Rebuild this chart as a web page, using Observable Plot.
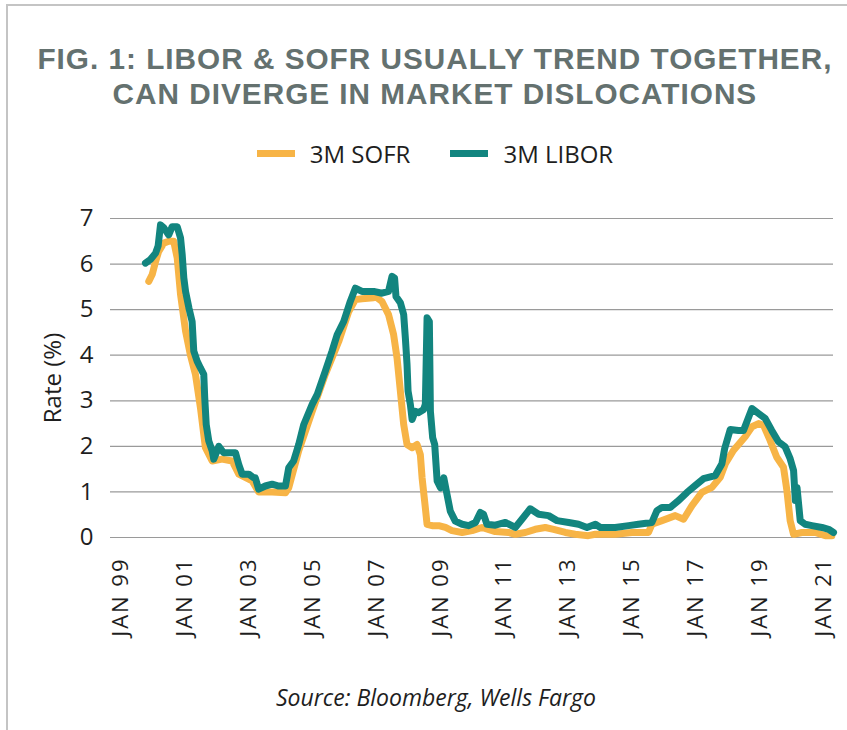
<!DOCTYPE html>
<html>
<head>
<meta charset="utf-8">
<script src="https://cdn.jsdelivr.net/npm/d3@7"></script>
<script src="https://cdn.jsdelivr.net/npm/@observablehq/plot@0.6"></script>
<style>
  html, body { margin: 0; padding: 0; background: #fff; }
  body { width: 847px; height: 730px; position: relative; overflow: hidden; font-family: "Open Sans", sans-serif; }
  #frame { position: absolute; left: 6px; top: 4px; width: 900px; height: 800px; border-top: 2px solid #c4c4c4; border-left: 2px solid #c4c4c4; }
  #titlewrap { position: absolute; left: 0; top: 41px; width: 870px; text-align: center; }
  #title { display: inline-block; text-align: center; font-family: "Liberation Sans Narrow", "Liberation Sans", sans-serif; font-weight: 700; font-size: 30px; line-height: 35px; color: #64716f; letter-spacing: 1px; white-space: nowrap; transform-origin: center; }
  #legend { position: absolute; left: 0; top: 137px; width: 870px; display: flex; justify-content: center; align-items: center; font-size: 24px; color: #1e1e1e; }
  .sw { display: inline-block; width: 38px; height: 7px; margin-right: 15px; }
  .item { display: flex; align-items: center; }
  #chart { position: absolute; left: 0; top: 190px; }
  #caption { position: absolute; left: 0; top: 681px; width: 872px; text-align: center; font-style: italic; font-size: 23px; color: #1e1e1e; }
  g[aria-label="x-axis tick label"] text { letter-spacing: 2px; }
</style>
</head>
<body>
<div id="frame"></div>
<div id="titlewrap"><div id="title">FIG. 1: LIBOR &amp; SOFR USUALLY TREND TOGETHER,<br>CAN DIVERGE IN MARKET DISLOCATIONS</div></div>
<div id="legend"></div>
<div id="chart"></div>
<div id="caption">Source: Bloomberg, Wells Fargo</div>
<script>
// ---- data ----
const seriesNames = ["3M SOFR", "3M LIBOR"];
const seriesColors = ["#f7b446", "#12857f"];

const liborDates = ["1999-10-12","1999-12-08","2000-02-05","2000-03-05","2000-04-01","2000-05-08","2000-07-04","2000-08-12","2000-10-09","2000-11-16","2000-12-05","2000-12-23","2001-01-12","2001-02-19","2001-03-28","2001-04-16","2001-05-24","2001-07-01","2001-08-08","2001-08-19","2001-09-05","2001-10-04","2001-11-12","2001-11-30","2002-01-27","2002-03-23","2002-06-28","2002-08-05","2002-09-12","2002-10-20","2003-01-04","2003-02-28","2003-03-19","2003-04-27","2003-07-12","2003-09-28","2003-12-12","2004-02-27","2004-04-04","2004-05-30","2004-07-27","2004-09-23","2004-12-28","2005-02-24","2005-05-27","2005-08-12","2005-10-09","2005-12-23","2006-03-08","2006-05-05","2006-07-20","2006-11-30","2007-03-05","2007-05-19","2007-06-28","2007-07-27","2007-08-12","2007-10-01","2007-11-08","2007-11-27","2007-12-16","2007-12-28","2008-01-23","2008-02-12","2008-03-19","2008-04-27","2008-06-23","2008-07-12","2008-08-01","2008-08-27","2008-09-08","2008-10-04","2008-10-27","2008-11-24","2009-01-01","2009-02-08","2009-03-16","2009-04-23","2009-06-19","2009-09-05","2009-11-19","2010-02-05","2010-04-01","2010-05-08","2010-06-16","2010-09-19","2011-01-12","2011-05-05","2011-07-20","2011-10-23","2012-01-27","2012-05-19","2012-08-24","2013-01-04","2013-04-27","2013-08-01","2013-11-05","2014-01-01","2014-06-19","2014-11-19","2015-03-12","2015-08-12","2015-10-09","2015-12-05","2016-03-08","2016-06-12","2016-09-16","2016-12-19","2017-03-23","2017-08-05","2017-10-20","2017-11-20","2018-01-23","2018-04-27","2018-06-23","2018-09-28","2018-12-12","2019-02-27","2019-05-12","2019-07-27","2019-10-12","2019-12-08","2020-01-16","2020-02-05","2020-02-24","2020-04-01","2020-05-27","2020-08-12","2020-12-05","2021-02-19","2021-04-16"];
const liborRates = [6.02,6.10,6.24,6.40,6.86,6.80,6.64,6.82,6.82,6.57,6.20,5.70,5.40,5.04,4.74,4.09,3.87,3.72,3.58,3.07,2.48,2.12,1.90,1.72,2.00,1.86,1.86,1.86,1.60,1.39,1.39,1.31,1.31,1.06,1.13,1.17,1.13,1.13,1.53,1.68,2.04,2.48,2.92,3.14,3.65,4.09,4.45,4.74,5.18,5.47,5.40,5.40,5.36,5.40,5.73,5.69,5.29,5.15,4.89,4.38,3.80,3.21,2.92,2.59,2.77,2.74,2.81,2.92,4.82,4.74,2.77,2.19,2.04,1.24,1.09,1.31,0.95,0.58,0.36,0.29,0.26,0.33,0.55,0.51,0.29,0.27,0.33,0.22,0.40,0.63,0.51,0.48,0.37,0.33,0.29,0.22,0.29,0.22,0.22,0.26,0.29,0.33,0.59,0.66,0.66,0.81,0.99,1.14,1.29,1.36,1.62,1.95,2.37,2.35,2.35,2.83,2.72,2.61,2.35,2.10,1.99,1.73,1.47,0.81,1.10,0.37,0.29,0.26,0.22,0.18,0.11];

const sofrDates = ["1999-11-19","1999-12-28","2000-02-05","2000-03-12","2000-05-08","2000-07-04","2000-08-30","2000-10-09","2000-11-16","2001-01-12","2001-03-08","2001-05-05","2001-07-01","2001-08-27","2001-11-12","2002-03-05","2002-06-28","2002-09-12","2003-02-12","2003-04-27","2003-09-28","2004-02-27","2004-04-04","2004-07-27","2004-12-28","2005-05-27","2005-10-27","2006-02-19","2006-05-05","2006-07-20","2006-11-30","2006-12-19","2007-03-05","2007-05-19","2007-07-16","2007-08-24","2007-10-01","2007-11-08","2007-12-16","2008-02-12","2008-04-09","2008-05-16","2008-06-05","2008-07-04","2008-08-01","2008-09-28","2008-12-12","2009-02-27","2009-05-12","2009-09-05","2009-12-28","2010-04-20","2010-09-19","2011-02-16","2011-05-05","2011-08-27","2011-12-19","2012-04-12","2012-07-16","2012-11-27","2013-03-19","2013-08-16","2013-11-05","2014-06-19","2014-12-28","2015-07-04","2015-08-12","2015-12-05","2016-05-05","2016-08-08","2016-11-12","2017-03-05","2017-06-28","2017-10-01","2017-11-28","2018-02-28","2018-07-12","2018-09-28","2018-12-12","2019-02-08","2019-04-23","2019-07-08","2019-09-23","2019-11-01","2019-12-08","2020-01-16","2020-04-20","2020-09-19","2021-01-12","2021-03-28"];
const sofrRates = [5.62,5.77,6.06,6.28,6.46,6.50,6.50,6.13,5.33,4.53,4.01,3.58,2.85,1.97,1.68,1.72,1.68,1.39,1.24,1.00,1.00,0.98,1.09,1.90,2.77,3.58,4.30,4.96,5.22,5.24,5.26,5.29,5.18,4.89,4.45,3.94,3.21,2.48,2.04,1.97,2.04,1.82,1.31,0.80,0.29,0.26,0.26,0.22,0.15,0.11,0.15,0.22,0.13,0.11,0.07,0.11,0.18,0.22,0.18,0.11,0.07,0.04,0.07,0.07,0.11,0.11,0.29,0.37,0.48,0.40,0.70,0.99,1.10,1.32,1.62,1.91,2.21,2.43,2.50,2.46,2.13,1.76,1.54,1.03,0.37,0.07,0.11,0.11,0.04,0.04];

const xTickYears = [1999,2001,2003,2005,2007,2009,2011,2013,2015,2017,2019,2021];
const yTicks = [0,1,2,3,4,5,6,7];
const xDomain = ["1998-09-08", "2021-04-16"];

// ---- build tables ----
const libor = liborDates.map((d, i) => ({date: new Date(d), rate: liborRates[i]}));
const sofr = sofrDates.map((d, i) => ({date: new Date(d), rate: sofrRates[i]}));
const xTicks = xTickYears.map(y => new Date(Date.UTC(y, 0, 1)));

// legend
const legend = document.getElementById("legend");
seriesNames.forEach((n, i) => {
  const it = document.createElement("div");
  it.className = "item";
  it.style.marginRight = i === 0 ? "40px" : "0";
  it.innerHTML = `<span class="sw" style="background:${seriesColors[i]}"></span><span>${n}</span>`;
  legend.appendChild(it);
});

const chart = Plot.plot({
  width: 847,
  height: 470,
  marginLeft: 110,
  marginRight: 14,
  marginTop: 28,
  marginBottom: 123,
  style: {fontFamily: "Open Sans", color: "#1e1e1e", background: "transparent"},
  x: {type: "utc", domain: xDomain.map(d => new Date(d))},
  y: {domain: [0, 7]},
  marks: [
    Plot.gridY(yTicks, {stroke: "#9a9a9a", strokeOpacity: 1, strokeWidth: 1.2}),
    Plot.axisY(yTicks, {tickSize: 0, tickPadding: 17, fontSize: 24, label: "Rate (%)", labelAnchor: "center", labelArrow: "none", labelOffset: 67}),
    Plot.axisX(xTicks, {tickSize: 0, tickPadding: 20, tickRotate: -90, fontSize: 22,
      tickFormat: d => "JAN " + String(d.getUTCFullYear()).slice(2), label: null}),
    Plot.line(sofr, {x: "date", y: "rate", stroke: seriesColors[0], strokeWidth: 7, strokeLinejoin: "round", strokeLinecap: "round"}),
    Plot.line(libor, {x: "date", y: "rate", stroke: seriesColors[1], strokeWidth: 7, strokeLinejoin: "round", strokeLinecap: "round"})
  ]
});
document.getElementById("chart").appendChild(chart);

// fit title block to the reference width of its first line
const title = document.getElementById("title");
title.style.transform = `scaleX(${795 / title.getBoundingClientRect().width})`;
</script>
</body>
</html>
